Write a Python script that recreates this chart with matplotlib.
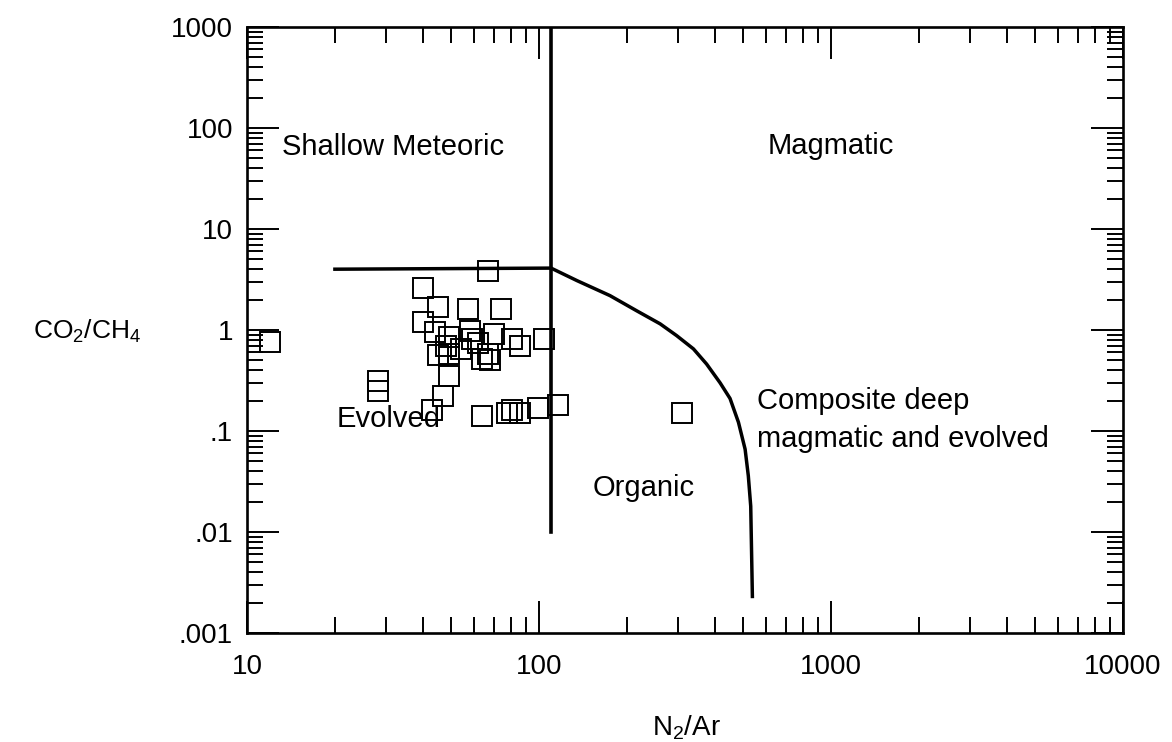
import numpy as np
from matplotlib import pyplot as plt
from matplotlib.ticker import LogLocator, NullFormatter

plt.rcParams['font.family'] = ['Liberation Sans', 'DejaVu Sans']
plt.rcParams['mathtext.fontset'] = 'custom'
plt.rcParams['mathtext.rm'] = 'Liberation Sans'
plt.rcParams['mathtext.it'] = 'Liberation Sans'
plt.rcParams['mathtext.default'] = 'regular'

# sample points
n2ar = [67, 40, 45, 57, 74, 40, 44, 49, 58, 70, 59, 62, 81, 86, 104,
        45, 49, 54, 67, 68, 64, 48, 49, 47, 43, 64, 78, 81, 86, 99, 116,
        28, 28, 12, 310]
co2ch4 = [3.8, 2.6, 1.7, 1.6, 1.6, 1.2, 0.95, 0.85, 0.98, 0.91, 0.81, 0.75, 0.81, 0.69, 0.81,
          0.56, 0.58, 0.65, 0.58, 0.50, 0.52, 0.70, 0.35, 0.22, 0.16, 0.14, 0.15, 0.16, 0.15, 0.17, 0.18,
          0.31, 0.25, 0.76, 0.15]

# field boundaries
bound_x = [20, 110, 135, 175, 216, 260, 296, 338, 375, 417, 451, 482, 508, 521, 531, 538]
bound_y = [4.0, 4.1, 3.08, 2.19, 1.55, 1.15, 0.88, 0.65, 0.46, 0.30, 0.21, 0.122, 0.066, 0.036, 0.018, 0.0023]
vline_x = [110, 110]
vline_y = [0.01, 1000]

xticks = [10, 100, 1000, 10000]
xlabels = ['10', '100', '1000', '10000']
yticks = [0.001, 0.01, 0.1, 1, 10, 100, 1000]
ylabels = ['.001', '.01', '.1', '1', '10', '100', '1000']

W, H = 1172, 742
fig = plt.figure(figsize=(W/100, H/100), dpi=100)
ax = fig.add_axes([247/W, 1-633/H, (1123-247)/W, (633-27)/H])
ax.set_xscale('log')
ax.set_yscale('log')
ax.set_xlim(10, 10000)
ax.set_ylim(0.001, 1000)

ax.plot(bound_x, bound_y, color='black', lw=2.5, solid_joinstyle='round')
ax.plot(vline_x, vline_y, color='black', lw=2.6)
ax.plot(n2ar, co2ch4, 's', ms=15, mfc='none', mec='black', mew=1.4)

ax.set_xticks(xticks)
ax.set_xticklabels(xlabels)
ax.set_yticks(yticks)
ax.set_yticklabels(ylabels)
ax.xaxis.set_minor_locator(LogLocator(base=10, subs=np.arange(2, 10)))
ax.yaxis.set_minor_locator(LogLocator(base=10, subs=np.arange(2, 10)))
ax.xaxis.set_minor_formatter(NullFormatter())
ax.yaxis.set_minor_formatter(NullFormatter())
ax.tick_params(which='both', direction='in', top=True, right=True, width=1.4, colors='black')
ax.tick_params(which='major', length=23, labelsize=20)
ax.tick_params(axis='x', which='major', pad=15)
ax.tick_params(axis='y', which='major', pad=10)
ax.tick_params(which='minor', length=11.5)
for s in ax.spines.values():
    s.set_linewidth(1.9)

fs = 21
ax.text(13.15, 64.8, 'Shallow Meteoric', fontsize=fs, va='center', ha='left')
ax.text(609, 66.8, 'Magmatic', fontsize=fs, va='center', ha='left')
ax.text(20.3, 0.1315, 'Evolved', fontsize=fs, va='center', ha='left')
ax.text(153, 0.0273, 'Organic', fontsize=fs, va='center', ha='left')
ax.text(557, 0.2, 'Composite deep', fontsize=fs, va='center', ha='left')
ax.text(557, 0.083, 'magmatic and evolved', fontsize=fs, va='center', ha='left')

fig.text(686/W, 1-735/H, 'N$_2$/Ar', fontsize=20, ha='center', va='baseline')
fig.text(33/W, 1-331/H, 'CO$_2$/CH$_4$', fontsize=19, ha='left', va='center')

fig.savefig('out.png', dpi=100)
